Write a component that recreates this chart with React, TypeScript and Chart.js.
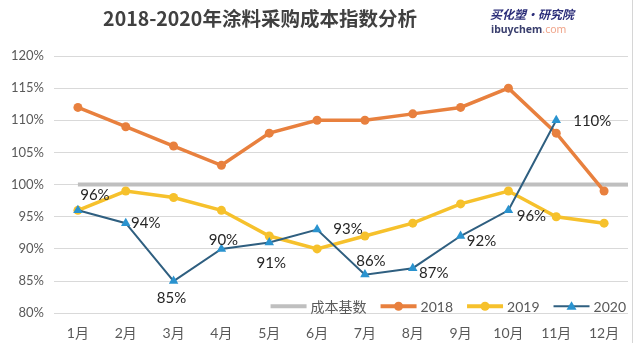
import React, { useEffect, useRef } from "react";
import { Chart, registerables } from "chart.js";

Chart.register(...registerables);

const months = ["1月", "2月", "3月", "4月", "5月", "6月", "7月", "8月", "9月", "10月", "11月", "12月"];
const baseline = [100, 100, 100, 100, 100, 100, 100, 100, 100, 100, 100, 100];
const s2018 = [112, 109, 106, 103, 108, 110, 110, 111, 112, 115, 108, 99];
const s2019 = [96, 99, 98, 96, 92, 90, 92, 94, 97, 99, 95, 94];
const s2020 = [96, 94, 85, 90, 91, 93, 86, 87, 92, 96, 110, null];
const yTicks = [80, 85, 90, 95, 100, 105, 110, 115, 120];
const seriesNames = ["成本基数", "2018", "2019", "2020"];
const titleText = "2018-2020年涂料采购成本指数分析";

// label offsets (styling) for 2020 data labels: [dx, dy] of label centre from point
const labelOffsets: [number, number][] = [
  [17, -15], [20, 0], [-2, 17], [2, -9], [2, 21], [31, 0],
  [6, -13], [21, 5], [21, 5], [23, 6], [36, 1],
];

const GRAY = "#BFBFBF";
const ORANGE = "#E8803E";
const YELLOW = "#F6C12C";
const BLUE_LINE = "#2F5F80";
const BLUE_MARK = "#2A93CF";
const FONT = "Lato, 'Noto Sans CJK SC', sans-serif";

const overlayPlugin = {
  id: "overlay",
  beforeDatasetsDraw(chart: any) {
    // extend the baseline series to the right edge of the plot
    const meta = chart.getDatasetMeta(0);
    const last = meta.data[meta.data.length - 1];
    if (!last) return;
    const ctx = chart.ctx;
    const y = chart.scales.y.getPixelForValue(baseline[baseline.length - 1]);
    ctx.save();
    ctx.strokeStyle = GRAY;
    ctx.lineWidth = 4;
    ctx.beginPath();
    ctx.moveTo(last.x, y);
    ctx.lineTo(chart.chartArea.right, y);
    ctx.stroke();
    ctx.restore();
  },
  afterDatasetsDraw(chart: any) {
    const ctx = chart.ctx;
    const meta = chart.getDatasetMeta(3);
    ctx.save();
    ctx.font = `15px ${FONT}`;
    ctx.fillStyle = "#262626";
    ctx.textAlign = "center";
    ctx.textBaseline = "middle";
    meta.data.forEach((pt: any, i: number) => {
      const v = s2020[i];
      if (v == null || pt.skip) return;
      const off = labelOffsets[i] || [0, -12];
      ctx.fillText(v + "%", pt.x + off[0], pt.y + off[1]);
    });
    ctx.restore();
  },
  afterDraw(chart: any) {
    const ctx = chart.ctx;
    const ca = chart.chartArea;
    ctx.save();
    // title
    ctx.fillStyle = "#404040";
    ctx.textBaseline = "middle";
    ctx.textAlign = "center";
    ctx.font = `bold 19.5px 'Noto Sans CJK SC', sans-serif`;
    ctx.fillText(titleText, 260, 19);
    // logo
    ctx.textAlign = "left";
    ctx.font = `italic bold 12px 'Noto Sans CJK SC', sans-serif`;
    ctx.fillStyle = "#2D2F7A";
    ctx.fillText("买化塑·研究院", 490, 14);
    ctx.font = `bold 10.5px 'Noto Sans', sans-serif`;
    ctx.fillStyle = "#3A3F6E";
    ctx.fillText("ibuychem", 491, 30);
    const w = ctx.measureText("ibuychem").width;
    ctx.font = `10.5px 'Noto Sans', sans-serif`;
    ctx.fillStyle = "#F0A58A";
    ctx.fillText(".com", 491 + w, 30);

    // legend
    ctx.font = `14px ${FONT}`;
    const ly = ca.bottom - 7;
    const lineW = 36;
    const gap = 4;
    const spacing = 14;
    const widths = seriesNames.map((n) => lineW + gap + ctx.measureText(n).width);
    const total = widths.reduce((a, b) => a + b, 0) + spacing * (seriesNames.length - 1);
    let x = ca.right - 2 - total;
    const colors = [GRAY, ORANGE, YELLOW, BLUE_LINE];
    seriesNames.forEach((n, i) => {
      ctx.strokeStyle = colors[i];
      ctx.lineWidth = i === 3 ? 2 : 4;
      ctx.beginPath();
      ctx.moveTo(x, ly);
      ctx.lineTo(x + lineW, ly);
      ctx.stroke();
      const cx = x + lineW / 2;
      if (i === 1 || i === 2) {
        ctx.fillStyle = colors[i];
        ctx.beginPath();
        ctx.arc(cx, ly, 4.5, 0, Math.PI * 2);
        ctx.fill();
      } else if (i === 3) {
        ctx.fillStyle = BLUE_MARK;
        ctx.beginPath();
        ctx.moveTo(cx, ly - 5);
        ctx.lineTo(cx + 5, ly + 3.5);
        ctx.lineTo(cx - 5, ly + 3.5);
        ctx.closePath();
        ctx.fill();
      }
      ctx.fillStyle = "#595959";
      ctx.textAlign = "left";
      ctx.textBaseline = "middle";
      ctx.fillText(n, x + lineW + gap, ly + 1);
      x += widths[i] + spacing;
    });

    // right border
    ctx.strokeStyle = "#D6D6D6";
    ctx.lineWidth = 1;
    ctx.beginPath();
    ctx.moveTo(632.5, 0);
    ctx.lineTo(632.5, 343);
    ctx.stroke();
    ctx.restore();
  },
};

export default function App() {
  const ref = useRef<HTMLCanvasElement | null>(null);
  useEffect(() => {
    document.body.style.margin = "0";
    const canvas = ref.current;
    if (!canvas) return;
    const chart = new Chart(canvas, {
      type: "line",
      data: {
        labels: months,
        datasets: [
          {
            label: seriesNames[0],
            data: baseline,
            borderColor: GRAY,
            borderWidth: 4,
            pointRadius: 0,
            order: 3,
          },
          {
            label: seriesNames[1],
            data: s2018,
            borderColor: ORANGE,
            backgroundColor: ORANGE,
            borderWidth: 3.5,
            pointRadius: 4.5,
            pointBorderWidth: 0,
            order: 2,
          },
          {
            label: seriesNames[2],
            data: s2019,
            borderColor: YELLOW,
            backgroundColor: YELLOW,
            borderWidth: 3.5,
            pointRadius: 4.5,
            pointBorderWidth: 0,
            order: 1,
          },
          {
            label: seriesNames[3],
            data: s2020,
            borderColor: BLUE_LINE,
            backgroundColor: BLUE_MARK,
            borderWidth: 2,
            pointStyle: "triangle",
            pointRadius: 5.5,
            pointBorderWidth: 0,
            order: 0,
          },
        ],
      },
      options: {
        animation: false,
        responsive: false,
        maintainAspectRatio: false,
        layout: { padding: { top: 56, left: 10, right: 12, bottom: 8 } },
        plugins: {
          legend: { display: false },
          title: { display: false },
          tooltip: { enabled: false },
        },
        scales: {
          x: {
            offset: true,
            grid: { display: false, drawTicks: false },
            border: { display: false },
            ticks: {
              color: "#595959",
              font: { family: FONT, size: 14 },
              padding: 12,
              maxRotation: 0,
            },
          },
          y: {
            min: 80,
            max: 120,
            afterBuildTicks: (axis: any) => {
              axis.ticks = yTicks.map((v) => ({ value: v }));
            },
            afterFit: (axis: any) => {
              axis.width = 44;
            },
            grid: { color: "#D9D9D9", lineWidth: 1, drawTicks: false },
            border: { display: false },
            ticks: {
              color: "#595959",
              font: { family: FONT, size: 13 },
              padding: 10,
              callback: (v: any) => v + "%",
            },
          },
        },
      },
      plugins: [overlayPlugin],
    });
    return () => chart.destroy();
  }, []);
  return <canvas ref={ref} width={640} height={362} style={{ display: "block" }} />;
}
